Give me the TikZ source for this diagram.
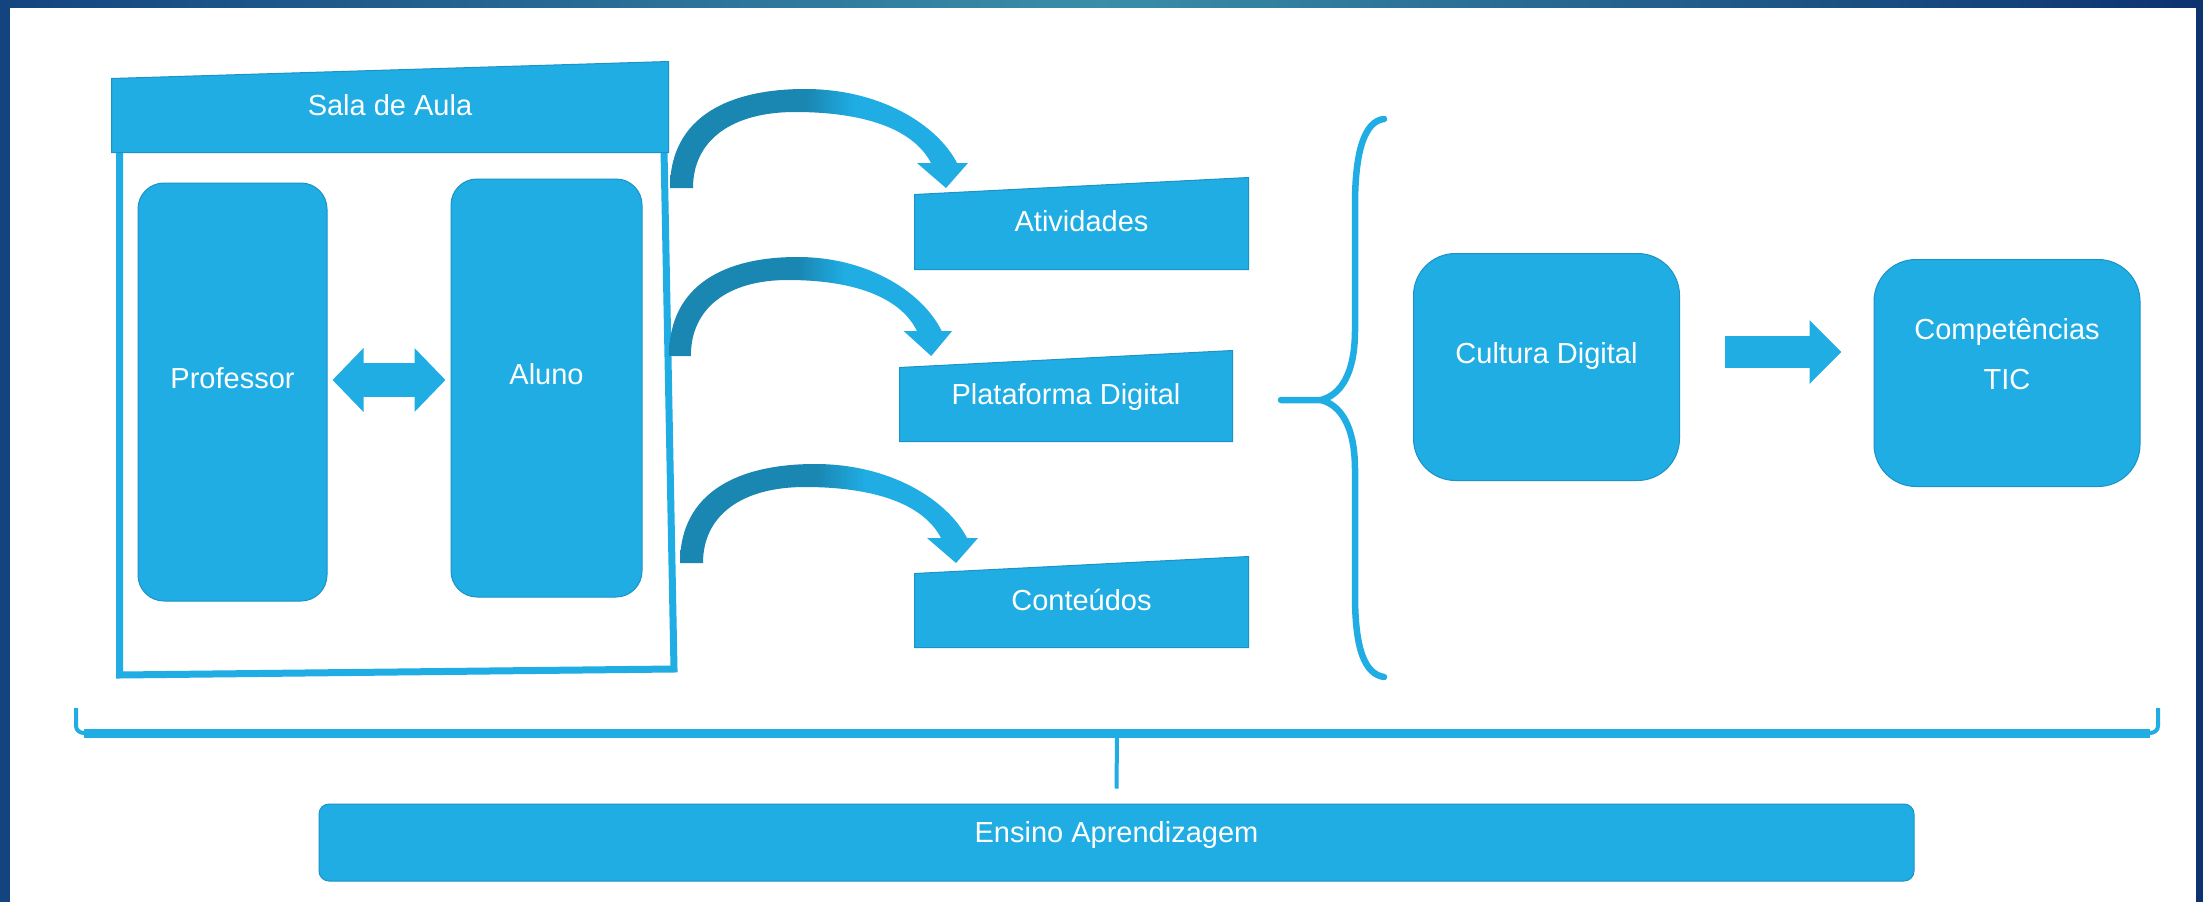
\documentclass[tikz,border=0pt]{standalone}
\usepackage{fontspec}
\setmainfont{Liberation Sans}
\usetikzlibrary{arrows.meta}
\definecolor{tileblue}{HTML}{1FADE3}
\definecolor{tileline}{HTML}{1B93C6}
\definecolor{benddark}{HTML}{1A87B3}
\definecolor{framenavy}{HTML}{14447F}
\definecolor{framenavyR}{HTML}{0C3270}
\definecolor{frameteal}{HTML}{3A8EA8}
\pgfdeclarehorizontalshading{bendshade}{100bp}{color(0bp)=(benddark); color(48bp)=(benddark); color(56bp)=(tileblue); color(100bp)=(tileblue)}
\pgfdeclarehorizontalshading{bandshade}{100bp}{color(0bp)=(framenavy); color(25bp)=(framenavy); color(50bp)=(frameteal); color(75bp)=(framenavyR); color(100bp)=(framenavyR)}
\tikzset{bendarrow/.pic={
  \shade[shading=bendshade] (0,0) .. controls (0,-72) and (60,-99) .. (135,-99) .. controls (212,-99) and (268,-62) .. (287,-25)
    -- (298,-25) -- (276,0) -- (247,-25) -- (261,-25)
    .. controls (243,-60) and (192,-76) .. (125,-76) .. controls (62,-76) and (23,-48) .. (23,0) -- cycle;
}}
\newcommand{\slanttop}[1]{%
  \fill[tileblue] (#1.north west) -- ([yshift=17pt]#1.north east) -- ([yshift=-3pt]#1.north east) -- ([yshift=-3pt]#1.north west) -- cycle;
  \draw[tileline,line width=1pt] (#1.south west) -- (#1.north west) -- ([yshift=17pt]#1.north east) -- (#1.south east) -- cycle;}

\begin{document}
\begin{tikzpicture}[x=1pt,y=-1pt]
\tikzstyle{tile}=[rectangle,fill=tileblue,draw=tileline,line width=1pt,text=white,font=\fontsize{29}{35}\selectfont,text depth=28pt,align=center]
\tikzstyle{slab}=[tile,draw=none,text depth=22pt]
\tikzstyle{brace}=[draw=tileblue,line width=6.5pt,line cap=round]
\tikzstyle{blockarrow}=[draw=tileblue,line width=34pt]
\fill[framenavy] (0,0) rectangle (2203,902);
\shade[shading=bandshade] (0,0) rectangle (2203,8);
\fill[framenavyR] (2196,8) rectangle (2203,902);
\fill[white] (10,8) rectangle (2196,902);
\useasboundingbox (0,0) rectangle (2203,902);

\draw[tileblue,line width=7pt] (119.5,150) -- (119.5,675) -- (674,669) -- (664,150);
\node[slab,minimum width=556pt,minimum height=73pt] (sala) at (390,115.5) {Sala de Aula};
\slanttop{sala}
\node[tile,rounded corners=26pt,minimum width=189pt,minimum height=418pt] (prof) at (232.5,392) {Professor};
\node[tile,rounded corners=26pt,minimum width=191pt,minimum height=418pt] (aluno) at (546.5,388) {Aluno};
\draw[blockarrow,{Triangle[width=62pt,length=31pt]}-{Triangle[width=62pt,length=31pt]},shorten <=5pt,shorten >=5pt]
  ([yshift=12pt]prof.east) -- ([yshift=12pt]prof.east -| aluno.west);

\node[slab,minimum width=333pt,minimum height=74pt] (ativ) at (1081.5,232) {Atividades};
\slanttop{ativ}
\node[slab,minimum width=332pt,minimum height=73pt] (plat) at (1066,404.5) {Plataforma Digital};
\slanttop{plat}
\node[slab,minimum width=333pt,minimum height=73pt] (cont) at (1081.5,610.5) {Conteúdos};
\slanttop{cont}
\coordinate (c1) at (670,188);
\coordinate (c2) at (669,356);
\coordinate (c3) at (680,563);
\pic at (c1) {bendarrow};
\pic[xscale=0.95] at (c2) {bendarrow};
\pic at (c3) {bendarrow};

\coordinate (tip) at (1281,400);
\draw[brace] (tip) -- (1321,400) .. controls (1340,395) and (1355,375) .. (1355,330) -- (1355,205)
  .. controls (1355,150) and (1365,121) .. (1384,119);
\draw[brace] (1321,400) .. controls (1340,405) and (1355,425) .. (1355,470) -- (1355,595)
  .. controls (1355,650) and (1365,674) .. (1384,677);

\node[tile,rounded corners=42pt,minimum width=266pt,minimum height=227pt] (cult) at (1546.5,367) {Cultura Digital};
\node[tile,rounded corners=42pt,minimum width=266pt,minimum height=227pt,font=\fontsize{29}{50}\selectfont,text depth=38pt] (comp) at (2007,373) {Competências\\TIC};
\draw[blockarrow,line width=32pt,-{Triangle[width=62pt,length=32pt]},shorten <=45pt,shorten >=32pt]
  ([yshift=15pt]cult.east) -- ([yshift=15pt]cult.east -| comp.west);

\node[tile,rounded corners=10pt,minimum width=1595pt,minimum height=77pt,text depth=22pt] (ensino) at (1116.5,842.5) {Ensino Aprendizagem};
\coordinate (barmid) at (1117,735);
\draw[brace,line width=4pt,line cap=butt] (76,708) -- (76,726) to[out=-90,in=180] (84,733) -- (2150,733) to[out=0,in=-90] (2158,726) -- (2158,708);
\draw[tileblue,line width=9pt] (84,733) -- (2150,733);
\draw[brace,line width=4pt,line cap=butt] (barmid) -- ([yshift=15pt]ensino.north);
\end{tikzpicture}
\end{document}
